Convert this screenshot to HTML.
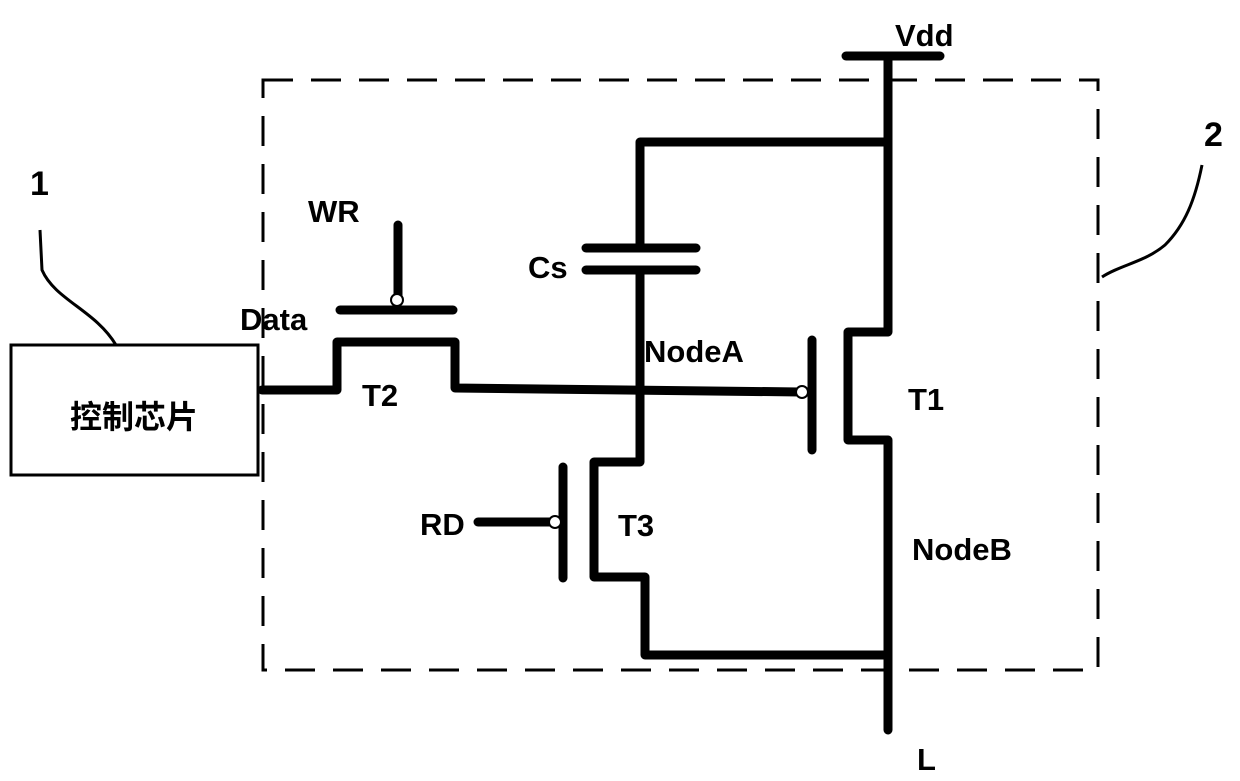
<!DOCTYPE html>
<html><head><meta charset="utf-8"><style>
body{margin:0;background:#fff;width:1240px;height:776px;overflow:hidden}
svg text{font-family:"Liberation Sans","Noto Sans CJK SC",sans-serif;fill:#000}
</style></head><body>
<svg width="1240" height="776" viewBox="0 0 1240 776">
<rect x="263" y="80" width="835" height="590" fill="none" stroke="#000" stroke-width="3" stroke-dasharray="30,18"/>
<rect x="11" y="345" width="247" height="130" fill="#fff" stroke="#000" stroke-width="3"/>
<text x="134" y="428" font-size="32" font-weight="bold" text-anchor="middle">控制芯片</text>
<g fill="none" stroke="#000" stroke-width="9" stroke-linecap="round" stroke-linejoin="round">
<line x1="846" y1="56" x2="940" y2="56"/>
<polyline points="888,56 888,332 848,332 848,440 888,440 888,730"/>
<polyline points="888,142 640,142 640,248"/>
<line x1="586" y1="248" x2="696" y2="248"/>
<line x1="586" y1="270" x2="696" y2="270"/>
<polyline points="640,270 640,462 594,462 594,577 645,577 645,655 888,655"/>
<line x1="812" y1="340" x2="812" y2="450"/>
<polyline points="262,390 337,390 337,342 455,342 455,388 800,392"/>
<line x1="398" y1="225" x2="398" y2="298"/>
<line x1="340" y1="310" x2="453" y2="310"/>
<line x1="563" y1="467" x2="563" y2="578"/>
<line x1="478" y1="522" x2="552" y2="522"/>
</g>
<g fill="#fff" stroke="#000" stroke-width="2">
<circle cx="397" cy="300" r="6"/><circle cx="802" cy="392" r="6"/><circle cx="555" cy="522" r="6"/>
</g>
<g fill="none" stroke="#000" stroke-width="3">
<path d="M1202,165 C1195,200 1185,225 1165,245 C1145,262 1120,265 1102,277"/>
<path d="M40,230 L42,270 C55,300 95,310 116,345"/>
</g>
<g font-size="31" font-weight="bold">
<text x="895" y="46">Vdd</text>
<text x="308" y="222">WR</text>
<text x="528" y="278">Cs</text>
<text x="240" y="330">Data</text>
<text x="644" y="362">NodeA</text>
<text x="362" y="406">T2</text>
<text x="908" y="410">T1</text>
<text x="420" y="535">RD</text>
<text x="618" y="536">T3</text>
<text x="912" y="560">NodeB</text>
<text x="917" y="770">L</text>
<text x="1204" y="146" font-size="34">2</text>
<text x="30" y="195" font-size="34">1</text>
</g>
</svg>
</body></html>
